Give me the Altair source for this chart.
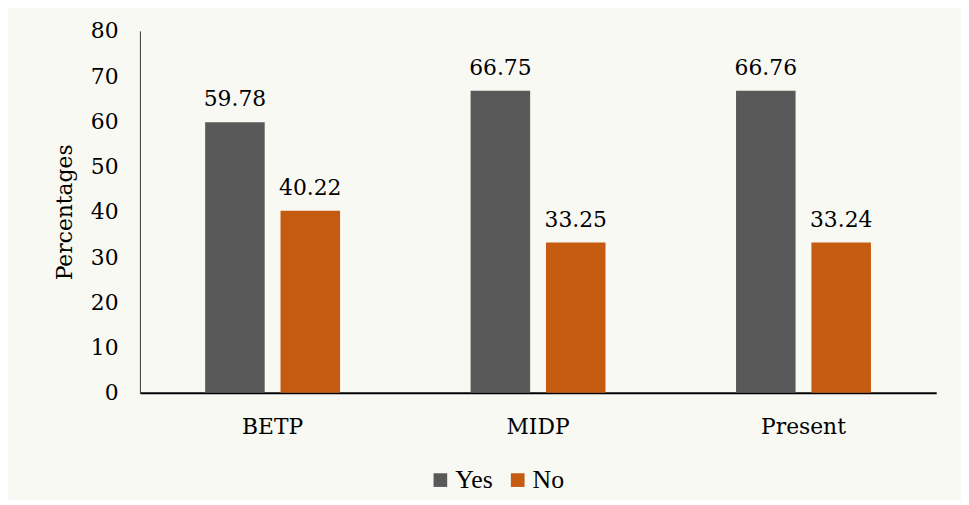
import altair as alt
import pandas as pd

categories = ["BETP", "MIDP", "Present"]
series = ["Yes", "No"]
yes_values = [59.78, 66.75, 66.76]
no_values = [40.22, 33.25, 33.24]
colors = ["#595959", "#C55A11"]

rows = []
for c, y, n in zip(categories, yes_values, no_values):
    rows.append({"cat": c, "resp": "Yes", "val": y})
    rows.append({"cat": c, "resp": "No", "val": n})
df = pd.DataFrame(rows)

FONT = "DejaVu Serif"
LEGEND_FONT = "Liberation Serif"

x = alt.X("cat:N", sort=categories, title=None,
          scale=alt.Scale(paddingInner=0, paddingOuter=0),
          axis=alt.Axis(labelAngle=0, labelFontSize=22, labelFont=FONT, labelColor="#000",
                        labelPadding=24, ticks=False, domainColor="#000", domainWidth=2))
xo = alt.XOffset("resp:N", sort=series,
                 scale=alt.Scale(paddingInner=0.21, paddingOuter=0.866))

bars = alt.Chart(df).mark_bar().encode(
    x=x, xOffset=xo,
    y=alt.Y("val:Q", title="Percentages",
            scale=alt.Scale(domain=[0, 80]),
            axis=alt.Axis(values=list(range(0, 81, 10)), grid=False, ticks=False,
                          labelFontSize=22, labelFont=FONT, labelColor="#000", labelPadding=22,
                          titleFont=FONT, titleFontSize=22, titleFontWeight="normal",
                          titleColor="#000", titlePadding=14,
                          domainColor="#333", domainWidth=1)),
    color=alt.Color("resp:N", sort=series,
                    scale=alt.Scale(domain=series, range=colors),
                    legend=alt.Legend(title=None, orient="none", direction="horizontal",
                                      legendX=290, legendY=440,
                                      symbolType="square", symbolSize=190,
                                      symbolStrokeWidth=0,
                                      labelFont=LEGEND_FONT, labelFontSize=26, labelColor="#000",
                                      columnPadding=12, labelOffset=2)),
)

labels = alt.Chart(df).mark_text(baseline="alphabetic", dy=-16, fontSize=22, font=FONT,
                                 color="#000").encode(
    x=alt.X("cat:N", sort=categories), xOffset=xo,
    y="val:Q",
    text=alt.Text("val:Q", format=".2f"),
)

chart = (bars + labels).properties(
    width=803, height=365,
    autosize=alt.AutoSizeParams(type="none"),
    padding={"left": 133, "top": 21, "right": 25, "bottom": 106},
    background="#F9F9F4",
).configure_view(stroke=None)

chart.save("out.html", embed_options={"renderer": "svg", "actions": False})
